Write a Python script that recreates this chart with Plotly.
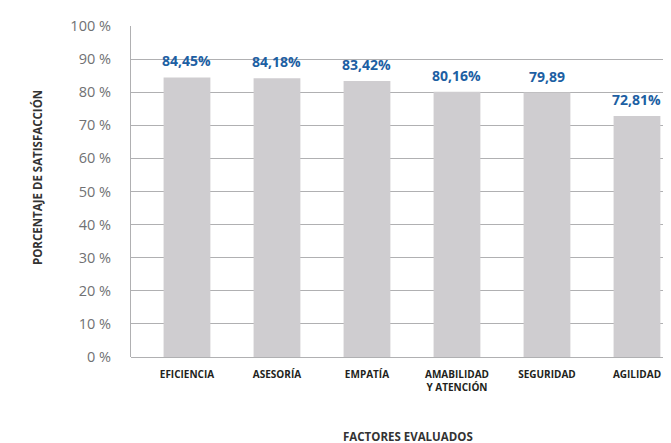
import plotly.graph_objects as go

categorias = ["EFICIENCIA", "ASESORÍA", "EMPATÍA", "AMABILIDAD<br>Y ATENCIÓN", "SEGURIDAD", "AGILIDAD"]
valores = [84.45, 84.18, 83.42, 80.16, 79.89, 72.81]
etiquetas = ["84,45%", "84,18%", "83,42%", "80,16%", "79,89", "72,81%"]
ticks_y = [0, 10, 20, 30, 40, 50, 60, 70, 80, 90, 100]
ticks_y_txt = ["0 %", "10 %", "20 %", "30 %", "40 %", "50 %", "60 %", "70 %", "80 %", "90 %", "100 %"]

FONT = "Open Sans"
idx = list(range(len(categorias)))

# page body has an 8px margin: figure coordinates = reference pixels - 8
OFF = 8
W, H = 671, 443
L, T, B = 131 - OFF, 26 - OFF, 357 - OFF
R_EDGE = W
PW, PH = R_EDGE - L, B - T
CAT_PX = 90.0
X0 = -0.622

fig = go.Figure()
fig.add_trace(go.Bar(
    x=idx, y=valores, width=0.52,
    marker=dict(color="#cfcdd0", line=dict(width=0)),
    hoverinfo="skip",
))

annotations = [
    dict(x=i, y=v, xref="x", yref="y", text=t, showarrow=False,
         xanchor="center", yanchor="bottom", yshift=5,
         font=dict(family=FONT, size=14, color="#1d5fa3", weight="bold"))
    for i, v, t in zip(idx, valores, etiquetas)
]
annotations += [
    dict(text="PORCENTAJE DE SATISFACCIÓN", xref="paper", yref="paper",
         x=-(131 - 38) / PW, y=(357 - 178) / PH, xanchor="center", yanchor="middle",
         textangle=-90, showarrow=False,
         font=dict(family=FONT, size=11.5, color="#333333", weight="bold")),
    dict(text="FACTORES EVALUADOS", xref="paper", yref="paper",
         x=(408 - 131) / PW, y=-(436 - 357) / PH, xanchor="center", yanchor="middle",
         showarrow=False,
         font=dict(family=FONT, size=11.5, color="#333333", weight="bold")),
]

fig.update_layout(
    width=W, height=H,
    margin=dict(l=L, r=W - R_EDGE, t=T, b=H - B),
    paper_bgcolor="white", plot_bgcolor="white",
    showlegend=False,
    font=dict(family=FONT),
    xaxis=dict(
        range=[X0, X0 + PW / CAT_PX], tickmode="array", tickvals=idx, ticktext=categorias,
        tickfont=dict(family=FONT, size=10, color="#231f20", weight="bold"),
        showgrid=False, zeroline=False, showline=False, ticks="outside", ticklen=8,
        tickcolor="rgba(0,0,0,0)", fixedrange=True,
    ),
    yaxis=dict(
        range=[0, 100], tickmode="array", tickvals=ticks_y, ticktext=ticks_y_txt,
        tickfont=dict(family=FONT, size=14.5, color="#707173"),
        showgrid=True, gridcolor="#b0b0b2", gridwidth=1.2,
        zeroline=True, zerolinecolor="#b0b0b2", zerolinewidth=1.2,
        showline=True, linecolor="#b0b0b2", linewidth=1.2,
        ticks="outside", ticklen=16, tickcolor="rgba(0,0,0,0)",
        fixedrange=True,
    ),
    annotations=annotations,
)

fig.write_html("out.html")
